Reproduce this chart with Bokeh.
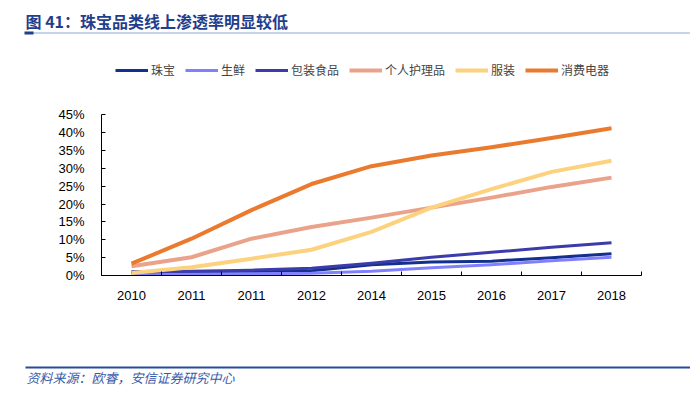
from bokeh.plotting import figure
from bokeh.layouts import column
from bokeh.models import (FixedTicker, PrintfTickFormatter, Legend, LegendItem,
                          Label, BoxAnnotation, Range1d)
from bokeh.embed import file_html
from bokeh.resources import INLINE

years = ["2010", "2011", "2011", "2012", "2014", "2015", "2016", "2017", "2018"]
jewelry = [1.0, 1.0, 1.1, 1.3, 3.0, 3.8, 4.0, 5.0, 6.1]
fresh = [0.3, 0.4, 0.5, 0.6, 1.2, 2.2, 3.0, 4.1, 5.1]
packaged_food = [1.0, 1.2, 1.5, 2.0, 3.4, 5.1, 6.5, 7.9, 9.2]
personal_care = [2.6, 5.1, 10.3, 13.6, 16.2, 19.0, 21.8, 24.8, 27.4]
apparel = [0.7, 2.3, 4.7, 7.2, 12.2, 19.0, 24.2, 29.0, 32.1]
appliances = [3.3, 10.3, 18.3, 25.6, 30.6, 33.6, 35.9, 38.5, 41.2]

series_names = ["珠宝", "生鲜", "包装食品", "个人护理品", "服装", "消费电器"]
series_vals = [jewelry, fresh, packaged_food, personal_care, apparel, appliances]
colors = ["#14308f", "#8080ff", "#3b3baa", "#eaa38a", "#fcd27f", "#ea7a2e"]
widths = [3, 3, 3, 4, 4, 4]
y_ticks = [0, 5, 10, 15, 20, 25, 30, 35, 40, 45]

title_text = "图 41：珠宝品类线上渗透率明显较低"
source_text = "资料来源：欧睿，安信证券研究中心"

CJK = "Noto Sans CJK SC"
LAT = "Liberation Sans"
W = 690


def blank(height):
    f = figure(width=W, height=height, output_backend="svg", toolbar_location=None,
               x_axis_type=None, y_axis_type=None, min_border=0,
               x_range=Range1d(0, 1), y_range=Range1d(0, 1))
    f.outline_line_color = None
    f.xgrid.visible = False
    f.ygrid.visible = False
    f.title.visible = False
    f.frame_align = False
    return f


def hbar(left, right, bottom, top, color):
    return BoxAnnotation(left=left, right=right, top=top, bottom=bottom,
                         left_units="screen", right_units="screen",
                         top_units="screen", bottom_units="screen",
                         fill_color=color, fill_alpha=1, line_color=None,
                         level="overlay")


# ---- header ----
header = blank(50)
header.add_layout(hbar(25, W, 17, 18, "#8ea6d4"))
header.add_layout(hbar(24, 33, 16, 19, "#1f3e8c"))
header.add_layout(Label(x=25, y=30, x_units="screen", y_units="screen",
                        text=title_text, text_font=CJK, text_font_size="16px",
                        text_font_style="bold", text_color="#1f3e8c",
                        text_baseline="middle"))

# ---- main chart ----
x = list(range(len(years)))
p = figure(width=W, height=305, output_backend="svg", toolbar_location=None,
           x_range=Range1d(-0.5, len(years) - 0.5), y_range=Range1d(0, 61.3),
           min_border_left=101, min_border_right=W - 641, min_border_top=6,
           min_border_bottom=80)
p.outline_line_color = None
p.xgrid.visible = False
p.ygrid.visible = False
p.title.visible = False

items = []
for name, vals, c, w in zip(series_names, series_vals, colors, widths):
    r = p.line(x, vals, line_color=c, line_width=w, line_join="round")
    items.append(LegendItem(label=name, renderers=[r]))

p.xaxis.ticker = FixedTicker(ticks=x, minor_ticks=[i - 0.5 for i in range(len(years) + 1)])
p.xaxis.major_label_overrides = {i: y for i, y in enumerate(years)}
p.xaxis.major_tick_line_color = None
p.xaxis.minor_tick_line_color = "black"
p.xaxis.minor_tick_in = 4
p.xaxis.minor_tick_out = 0
p.xaxis.axis_line_color = "black"
p.xaxis.major_label_text_font = LAT
p.xaxis.major_label_text_font_size = "13px"
p.xaxis.major_label_text_color = "black"
p.xaxis.major_label_standoff = 9

p.yaxis.ticker = FixedTicker(ticks=y_ticks, minor_ticks=[])
p.yaxis.formatter = PrintfTickFormatter(format="%d%%")
p.yaxis.bounds = (0, 45)
p.yaxis.major_tick_in = 4
p.yaxis.major_tick_out = 0
p.yaxis.major_tick_line_color = "black"
p.yaxis.axis_line_color = "black"
p.yaxis.major_label_text_font = LAT
p.yaxis.major_label_text_font_size = "13px"
p.yaxis.major_label_text_color = "black"
p.yaxis.major_label_standoff = 17

legend = Legend(items=items, orientation="horizontal", location=(14, 197),
                glyph_width=33, glyph_height=12, label_standoff=3, spacing=10,
                padding=0, margin=0, border_line_color=None,
                background_fill_alpha=0, label_text_font=CJK,
                label_text_font_size="12px", label_height=12)
p.add_layout(legend, "center")

# ---- footer ----
footer = blank(35)
footer.add_layout(hbar(25, W, 22, 24, "#2b4a9c"))
footer.add_layout(Label(x=26, y=13, x_units="screen", y_units="screen",
                        text=source_text, text_font=CJK, text_font_size="13px",
                        text_font_style="italic", text_color="#3a5aa8",
                        text_baseline="middle"))

layout = column(header, p, footer, spacing=0)
open("out.html", "w").write(file_html(layout, INLINE))
